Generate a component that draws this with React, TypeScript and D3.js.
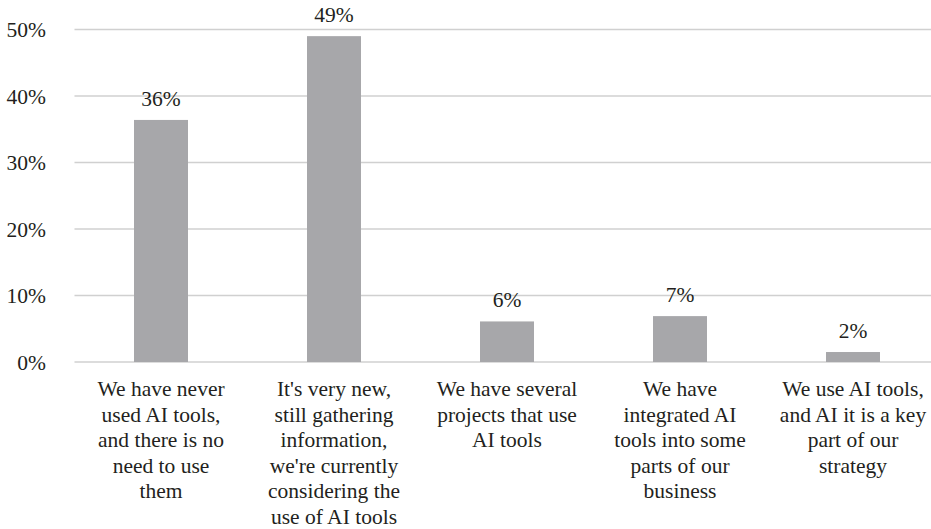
import React from "react";
import * as d3 from "d3";

const categories: string[][] = [
  ["We have never", "used AI tools,", "and there is no", "need to use", "them"],
  ["It's very new,", "still gathering", "information,", "we're currently", "considering the", "use of AI tools"],
  ["We have several", "projects that use", "AI tools"],
  ["We have", "integrated AI", "tools into some", "parts of our", "business"],
  ["We use AI tools,", "and AI it is a key", "part of our", "strategy"],
];
const values: number[] = [36.4, 49.0, 6.1, 6.9, 1.5];
const yTicks: number[] = [0, 10, 20, 30, 40, 50];

const W = 931;
const H = 529;

export default function App() {
  const left = 74.5;
  const right = 939.5;
  const top = 29.5;
  const bottom = 362;

  const x = d3
    .scaleBand<number>()
    .domain(values.map((_, i) => i))
    .range([left, right])
    .paddingInner(0.688)
    .paddingOuter(0.344);
  const y = d3.scaleLinear().domain([0, 50]).range([bottom, top]);

  const ts: React.CSSProperties = { fontFamily: '"Liberation Serif"', fontSize: "21.5px" };

  return (
    <svg
      width={W}
      height={H}
      style={{ position: "absolute", left: 0, top: 0, background: "#fff" }}
    >
      {yTicks.map((t) => (
        <g key={t}>
          <line x1={left} x2={right} y1={y(t)} y2={y(t)} stroke="#d0d0d0" strokeWidth={1.3} />
          <text x={46} y={y(t)} dy="0.35em" textAnchor="end" style={ts} fill="#231f20">
            {t}%
          </text>
        </g>
      ))}
      {values.map((v, i) => {
        const bx = x(i)!;
        const cx = bx + x.bandwidth() / 2;
        return (
          <g key={i}>
            <rect x={bx} y={y(v)} width={x.bandwidth()} height={bottom - y(v)} fill="#a7a7aa" />
            <text x={cx} y={y(v) - 14} textAnchor="middle" style={ts} fill="#231f20">
              {Math.round(v)}%
            </text>
            {categories[i].map((line, j) => (
              <text
                key={j}
                x={cx}
                y={396 + j * 25.5}
                textAnchor="middle"
                style={ts}
                fill="#231f20"
              >
                {line}
              </text>
            ))}
          </g>
        );
      })}
    </svg>
  );
}
